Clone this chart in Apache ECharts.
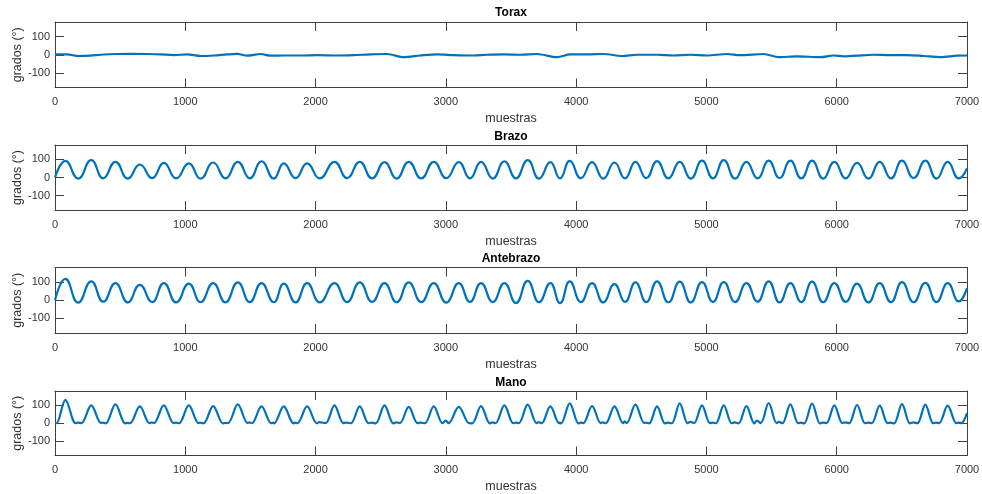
<!DOCTYPE html>
<html>
<head>
<meta charset="utf-8">
<title>Torax / Brazo / Antebrazo / Mano</title>
<script src="https://cdn.jsdelivr.net/npm/echarts@6/dist/echarts.min.js"></script>
<style>
  html, body { margin: 0; padding: 0; background: #fff; }
  #chart { width: 982px; height: 494px; }
</style>
</head>
<body>
<div id="chart"></div>
<script>
// titulos de cada subgrafica
const titles = ['Torax', 'Brazo', 'Antebrazo', 'Mano'];
const yTicks = [-100, 0, 100];

// Torax: casi plano alrededor de 0
const toraxX = [0, 93, 183, 273, 350, 477, 605, 708, 810, 913, 1015, 1117, 1220, 1322, 1399, 1475, 1578, 1655, 1757, 1885,
  2012, 2165, 2293, 2421, 2549, 2677, 2805, 2933, 3061, 3189, 3317, 3445, 3572, 3700, 3854, 3956, 4084, 4212, 4353, 4468,
  4621, 4749, 4877, 5004, 5158, 5260, 5439, 5554, 5695, 5874, 5976, 6053, 6155, 6283, 6411, 6539, 6667, 6795, 6923, 7000];
const toraxY = [2, 2, -7, -5, 0, 4, 5, 4, 2, -2, 2, -7, -4, 2, 5, -5, 4, -5, -4, -4,
  -2, -4, -2, 2, 4, -13, -4, 2, -2, -4, 0, 2, 0, 4, -13, 2, 2, 4, -7, 0,
  0, -4, 0, -4, 4, -2, 4, -13, -9, -13, -4, -9, -5, 0, -2, -2, -7, -13, -5, -4];

// posiciones (muestras) de picos y valles de cada ciclo
const peakX = [80, 278, 464, 651, 835, 1027, 1214, 1403, 1585, 1756, 1935, 2145, 2339, 2529, 2715, 2907, 3099, 3270, 3449, 3628,
  3802, 3951, 4122, 4294, 4455, 4621, 4795, 4966, 5133, 5307, 5478, 5644, 5811, 5982, 6156, 6330, 6501, 6680, 6852];
const troughX = [178, 370, 559, 746, 930, 1117, 1308, 1495, 1679, 1846, 2032, 2242, 2434, 2622, 2811, 3003, 3185, 3360, 3538, 3715,
  3876, 4036, 4208, 4375, 4538, 4708, 4880, 5050, 5220, 5392, 5561, 5728, 5896, 6069, 6243, 6416, 6590, 6766, 6936];

// Brazo
const brazoPeak = [92, 96, 87, 72, 81, 78, 83, 87, 90, 78, 78, 87, 87, 85, 87, 87, 85, 87, 90, 96,
  85, 92, 85, 83, 87, 91, 87, 93, 96, 87, 93, 93, 93, 87, 81, 87, 93, 93, 87];
const brazoTrough = [-6, -5, -6, -4, -5, -6, -5, -5, -6, -4, -5, -3, -5, -6, -5, -4, -5, -6, -5, -6,
  -5, -4, -6, -5, -4, -5, -6, -5, -6, -5, -4, -5, -6, -5, -6, -5, -4, -6, -5];
const brazoEnds = [[0, 0], [7000, 50]];

// Antebrazo
const antePeak = [117, 104, 94, 85, 94, 91, 94, 98, 94, 91, 94, 94, 98, 94, 98, 94, 94, 94, 94, 107,
  94, 104, 94, 89, 98, 104, 102, 100, 100, 94, 104, 94, 102, 94, 91, 94, 100, 96, 94];
const anteTrough = [-13, -8, -12, -10, -12, -11, -12, -10, -11, -12, -12, -10, -9, -11, -10, -13, -9, -10, -15, -11,
  -16, -10, -12, -9, -10, -11, -12, -9, -10, -8, -12, -10, -11, -9, -12, -10, -11, -10, -7];
const anteEnds = [[0, 0], [7000, 67]];

// Mano: picos triangulares con fondo plano
const manoPeak = [131, 100, 105, 94, 100, 100, 96, 105, 94, 94, 94, 100, 94, 100, 91, 94, 91, 96, 100, 104,
  94, 111, 96, 94, 104, 94, 111, 100, 100, 96, 113, 105, 109, 100, 102, 98, 107, 104, 98];
const manoRise = [12, 203, 389, 576, 760, 952, 1139, 1328, 1510, 1681, 1860, 2077, 2271, 2461, 2647, 2839, 3021, 3202, 3381, 3560,
  3735, 3884, 4055, 4227, 4388, 4560, 4734, 4905, 5072, 5246, 5417, 5583, 5750, 5921, 6095, 6269, 6440, 6619, 6786];
const manoFall = [158, 353, 539, 726, 910, 1102, 1289, 1478, 1660, 1831, 2010, 2213, 2407, 2597, 2783, 2975, 3177, 3338, 3517, 3696,
  3869, 4018, 4189, 4361, 4522, 4682, 4856, 5027, 5194, 5368, 5539, 5705, 5872, 6043, 6217, 6391, 6562, 6741, 6918];
const manoFloor = [0, 1, -1, 0, 1, 0, -1, 1, 0, -1, 0, 1, 0, -1, 1, 0, 1, -1, 0, 1,
  0, -1, 1, 0, 1, -1, 0, 1, 0, -1, 1, 0, -1, 1, 0, 1, -1, 0, 1];
const manoMid = [3, 4, 2, 5, 3, 4, 2, 5, 3, 4, 6, 4, 3, 5, 4, 15, 3, 5, 4, 6,
  4, 3, 5, 10, 4, 3, 8, 4, 5, 15, 8, 4, 3, 5, 4, 3, 5, 4, 3];
const manoEnds = [[0, 0], [6955, 1], [7000, 57]];

// arma la serie alternando picos y valles
const wave = (ends, py, ty) => {
  const pts = [ends[0]];
  peakX.forEach((x, i) => {
    pts.push([x, py[i]]);
    pts.push([troughX[i], ty[i]]);
  });
  pts.push(ends[1]);
  return pts;
};

const manoWave = () => {
  const pts = [manoEnds[0]];
  peakX.forEach((x, i) => {
    pts.push([manoRise[i], manoFloor[i]]);
    pts.push([x, manoPeak[i]]);
    pts.push([manoFall[i], manoFloor[i]]);
    pts.push([troughX[i] - 4, manoMid[i]]);
  });
  pts.push(manoEnds[1], manoEnds[2]);
  return pts;
};

const seriesData = [
  toraxX.map((x, i) => [x, toraxY[i]]),
  wave(brazoEnds, brazoPeak, brazoTrough),
  wave(anteEnds, antePeak, anteTrough),
  manoWave()
];

const gridTops = [22, 145, 267.5, 391];
const gridHeights = [65.5, 65, 65.5, 64.5];
const titleTops = [7, 131, 253, 377];

const font = 'Liberation Sans, Arial, sans-serif';
const axisColor = '#404040';
const textColor = '#333';

const chart = echarts.init(document.getElementById('chart'));

const grid = [], xAxis = [], yAxis = [], series = [], title = [];
titles.forEach((name, g) => {
  grid.push({
    left: 55, right: 15, top: gridTops[g], height: gridHeights[g],
    containLabel: false, outerBoundsMode: 'none'
  });
  title.push({
    text: name, left: 511, top: titleTops[g], textAlign: 'center', padding: 0,
    textStyle: { fontFamily: font, fontSize: 12, fontWeight: 'bold', color: '#000' }
  });
  // eje inferior con etiquetas, eje superior solo con marcas
  xAxis.push({
    type: 'value', gridIndex: g, min: 0, max: 7000, interval: 1000, position: 'bottom',
    name: 'muestras', nameLocation: 'middle', nameGap: 25,
    nameTextStyle: { fontFamily: font, fontSize: 12.5, color: textColor },
    axisLine: { show: true, onZero: false, lineStyle: { color: axisColor, width: 1 } },
    axisTick: { inside: true, length: 9, lineStyle: { color: axisColor } },
    axisLabel: { margin: 9, fontFamily: font, fontSize: 11, color: textColor, formatter: v => String(v) },
    splitLine: { show: false }
  });
  xAxis.push({
    type: 'value', gridIndex: g, min: 0, max: 7000, interval: 1000, position: 'top',
    axisLine: { show: true, onZero: false, lineStyle: { color: axisColor, width: 1 } },
    axisTick: { inside: true, length: 9, lineStyle: { color: axisColor } },
    axisLabel: { show: false },
    splitLine: { show: false }
  });
  yAxis.push({
    type: 'value', gridIndex: g, min: -180, max: 180, position: 'left',
    name: 'grados (°)', nameLocation: 'middle', nameGap: 31, nameRotate: 90, nameMoveOverlap: false,
    nameTextStyle: { fontFamily: font, fontSize: 12.5, color: textColor },
    axisLine: { show: true, onZero: false, lineStyle: { color: axisColor, width: 1 } },
    axisTick: { inside: true, length: 9, customValues: yTicks, lineStyle: { color: axisColor } },
    axisLabel: { margin: 5, customValues: yTicks, fontFamily: font, fontSize: 11, color: textColor },
    splitLine: { show: false }
  });
  yAxis.push({
    type: 'value', gridIndex: g, min: -180, max: 180, position: 'right',
    axisLine: { show: true, onZero: false, lineStyle: { color: axisColor, width: 1 } },
    axisTick: { inside: true, length: 9, customValues: yTicks, lineStyle: { color: axisColor } },
    axisLabel: { show: false },
    splitLine: { show: false }
  });
  series.push({
    name: name, type: 'line', xAxisIndex: 2 * g, yAxisIndex: 2 * g,
    data: seriesData[g], showSymbol: false, symbol: 'none',
    smooth: g === 0 ? 0.3 : (g === 3 ? 0.35 : 0.5),
    lineStyle: { color: '#0072BD', width: 2.2 },
    animation: false
  });
});

chart.setOption({ animation: false, title, grid, xAxis, yAxis, series });
</script>
</body>
</html>
